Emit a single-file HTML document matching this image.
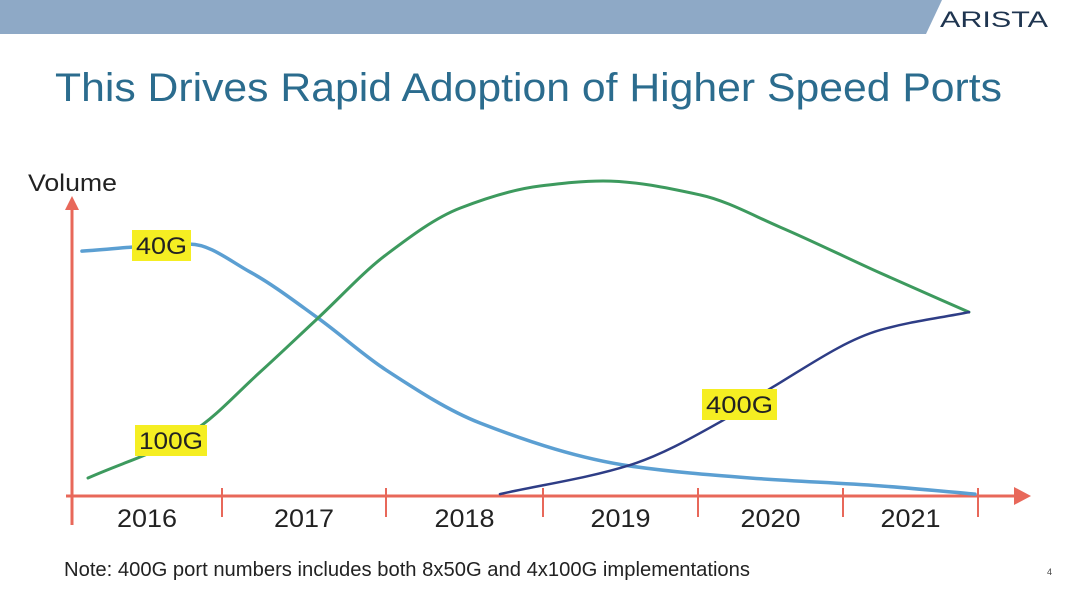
<!DOCTYPE html>
<html><head><meta charset="utf-8"><style>
html,body{margin:0;padding:0;background:#fff;}
body{width:1080px;height:607px;position:relative;overflow:hidden;font-family:"Liberation Sans",sans-serif;}
</style></head><body>
<svg width="1080" height="607" viewBox="0 0 1080 607" xmlns="http://www.w3.org/2000/svg">
<polygon points="0,0 942,0 926,34 0,34" fill="#8ea9c6"/>
<text x="940" y="27" font-size="22" fill="#1f3550" textLength="108" lengthAdjust="spacingAndGlyphs">ARISTA</text>
<text x="55" y="101" font-size="40" fill="#2b6c8e" textLength="947" lengthAdjust="spacingAndGlyphs">This Drives Rapid Adoption of Higher Speed Ports</text>
<text x="28" y="191" font-size="24" fill="#222" textLength="89" lengthAdjust="spacingAndGlyphs">Volume</text>
<g id="axes"></g>
<g id="series"></g>
<g id="labels"></g>
<text x="64" y="576" font-size="20" fill="#222" textLength="686" lengthAdjust="spacingAndGlyphs">Note: 400G port numbers includes both 8x50G and 4x100G implementations</text>
<text x="1047" y="575" font-size="9" fill="#444">4</text>
</svg>
<script>
const years = ["2016","2017","2018","2019","2020","2021"];
const t40 = [0.066,0.781,1.179,1.629,2.079,2.702,3.695,4.490,5.351,5.980];
const v40 = [77.5,79.7,70.9,56.3,39.9,23.1,9.5,5.7,3.2,0.6];
const t100 = [0.106,0.795,1.245,1.629,2.079,2.570,3.099,3.517,4.159,4.689,5.351,5.940];
const v100 = [5.7,20.3,39.2,56.3,76.3,91.1,98.1,99.7,95.3,85.1,70.6,58.2];
const t400 = [2.834,3.695,4.291,4.642,5.351,5.940];
const v400 = [0.6,9.8,23.4,34.5,52.5,58.2];
const NS="http://www.w3.org/2000/svg";
const X = t => 72 + t*151;
const Y = v => 496 - v*3.16;
const axisCol="#e8685a";
function mk(tag,attrs,parent){const e=document.createElementNS(NS,tag);for(const k in attrs)e.setAttribute(k,attrs[k]);parent.appendChild(e);return e;}
const axes=document.getElementById('axes');
let a=mk('line',{x1:72,y1:525,x2:72,y2:208,stroke:axisCol,'stroke-width':3},axes);


a=mk('polygon',{points:'65,210 79,210 72,196',fill:axisCol},axes);


a=mk('line',{x1:66,y1:496,x2:1018,y2:496,stroke:axisCol,'stroke-width':3},axes);


a=mk('polygon',{points:'1014,487 1014,505 1031,496',fill:axisCol},axes);


const tickX=[72,222,386,543,698,843,978];
for(let i=0;i<tickX.length;i++){
  const tk=mk('line',{x1:tickX[i],y1:488,x2:tickX[i],y2:i==0?525:517,stroke:axisCol,'stroke-width':2},axes);
  
  
}
for(let i=0;i<years.length;i++){
  const cx=(tickX[i]+tickX[i+1])/2;
  const tx=mk('text',{x:cx-30,y:527,'font-size':25,fill:'#222',textLength:60,lengthAdjust:'spacingAndGlyphs'},axes);
  tx.textContent=years[i];
  
  
}
function mono(ts,vs){
  const p=ts.map((t,i)=>[X(t),Y(vs[i])]);
  const n=p.length, d=[], m=[];
  for(let i=0;i<n-1;i++) d.push((p[i+1][1]-p[i][1])/(p[i+1][0]-p[i][0]));
  m[0]=d[0]; m[n-1]=d[n-2];
  for(let i=1;i<n-1;i++){
    if(d[i-1]*d[i]<=0) m[i]=0;
    else { const h0=p[i][0]-p[i-1][0], h1=p[i+1][0]-p[i][0];
      const w1=2*h1+h0, w2=h1+2*h0;
      m[i]=(w1+w2)/(w1/d[i-1]+w2/d[i]); }
  }
  let s=`M${p[0][0]},${p[0][1]}`;
  for(let i=0;i<n-1;i++){
    const h=(p[i+1][0]-p[i][0])/3;
    s+=` C${p[i][0]+h},${p[i][1]+m[i]*h} ${p[i+1][0]-h},${p[i+1][1]-m[i+1]*h} ${p[i+1][0]},${p[i+1][1]}`;
  }
  return s;
}
const ser=document.getElementById('series');
let s=mk('path',{d:mono(t40,v40),fill:'none',stroke:'#5b9fd2','stroke-width':3.5,'stroke-linecap':'round'},ser);


s=mk('path',{d:mono(t100,v100),fill:'none',stroke:'#3d9a5e','stroke-width':3,'stroke-linecap':'round'},ser);


s=mk('path',{d:mono(t400,v400),fill:'none',stroke:'#2e3d86','stroke-width':2.5,'stroke-linecap':'round'},ser);


const lab=document.getElementById('labels');
function label(x,y,w,txt,name){
  const r=mk('rect',{x:x,y:y,width:w,height:31,fill:'#f5ee22'},lab);
  
  
  const t=mk('text',{x:x+4,y:y+24,'font-size':24,fill:'#222',textLength:w-8,lengthAdjust:'spacingAndGlyphs'},lab);
  t.textContent=txt;
  
  
}
label(132,230,59,'40G','label-40g');
label(135,425,72,'100G','label-100g');
label(702,389,75,'400G','label-400g');
</script>
</body></html>
